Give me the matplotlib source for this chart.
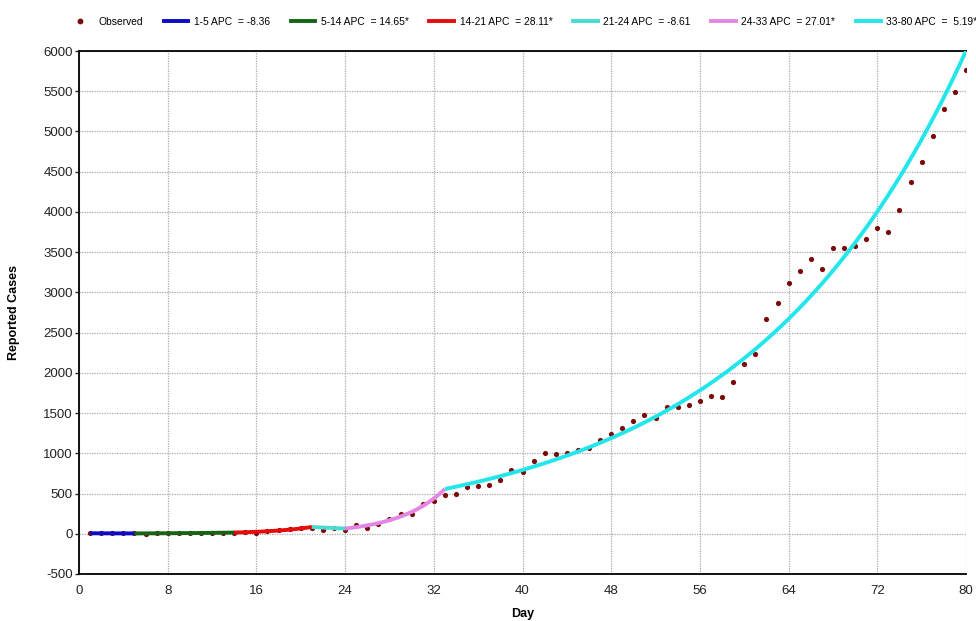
import numpy as np
import matplotlib
matplotlib.use("Agg")
import matplotlib.pyplot as plt
from matplotlib.lines import Line2D

plt.rcParams['font.family'] = ['Liberation Sans', 'DejaVu Sans']
plt.rcParams['axes.unicode_minus'] = False

# Observed reported cases by day
days = list(range(1, 81))
observed = [7, 5, 6, 4, 5, 3, 6, 7, 8, 9, 10, 12, 11, 14,
            20, 12, 33, 41, 62, 75, 75, 41, 75, 41, 104, 75, 125, 187, 250, 250,
            366, 410, 488, 490, 586, 591, 607, 673, 793, 768,
            900, 1004, 987, 1008, 1045, 1062, 1169, 1243, 1318, 1400,
            1471, 1441, 1578, 1578, 1605, 1650, 1708, 1706, 1888, 2107,
            2234, 2672, 2866, 3118, 3267, 3420, 3296, 3548, 3556, 3577,
            3664, 3800, 3751, 4027, 4366, 4618, 4944, 5275, 5493, 5758]

# Joinpoint segments (from legend) and fitted value at day 1
joinpoints = [1, 5, 14, 21, 24, 33, 80]
apc = [-8.36, 14.65, 28.11, -8.61, 27.01, 5.19]
apc_sig = [False, True, True, False, True, True]
fit_start = 6.2
seg_colors = ['#0a0ac8', '#146614', '#e60c0c', '#48dcd0', '#e487e4', '#22e6ea']

fig = plt.figure(figsize=(9.76, 6.21), dpi=100)
ax = fig.add_axes([79/976, 1-574/621, (966-79)/976, (574-51)/621])

ax.scatter(days, observed, s=14, color='#7a0a0a', zorder=3, linewidths=0)

handles = [Line2D([], [], marker='o', linestyle='none', color='#7a0a0a', markersize=3.2)]
labels = ['Observed']
val = fit_start
for i in range(len(apc)):
    a, b = joinpoints[i], joinpoints[i+1]
    t = np.linspace(a, b, 80)
    y = val * (1 + apc[i]/100.0) ** (t - a)
    ax.plot(t, y, color=seg_colors[i], lw=2.8, zorder=4, solid_capstyle='butt')
    val = y[-1]
    handles.append(Line2D([], [], color=seg_colors[i], lw=2.8))
    star = '*' if apc_sig[i] else ''
    sp = ' ' if apc[i] >= 0 and abs(apc[i]) < 10 else ''
    labels.append(f'{a}-{b} APC  = {sp}{apc[i]:.2f}{star}')

ax.set_xlim(0, 80)
ax.set_ylim(-500, 6000)
ax.set_xticks(range(0, 81, 8))
ax.set_yticks(range(-500, 6001, 500))
ax.grid(True, color='#a8a8a8', linestyle=(0, (1, 1)), linewidth=0.9)
ax.set_axisbelow(True)
for s in ['left', 'bottom', 'top']:
    ax.spines[s].set_linewidth(1.3)
    ax.spines[s].set_color('black')
ax.spines['right'].set_visible(False)
ax.tick_params(axis='both', labelsize=9.5, colors='#222222', length=3, width=1)
ax.tick_params(axis='y', pad=1.5)
ax.tick_params(axis='x', length=0, pad=8)
ax.set_xlabel('Day', fontsize=9, fontweight='bold', labelpad=8)
ax.set_ylabel('Reported Cases', fontsize=9, fontweight='bold', labelpad=17)

fig.legend(handles, labels, loc='center left', bbox_to_anchor=(68/976, 1-22/621),
           ncol=7, frameon=False, fontsize=7.4, handlelength=2.4, handletextpad=0.55,
           columnspacing=2.0, borderpad=0, borderaxespad=0)

fig.savefig('out.png', dpi=100)
